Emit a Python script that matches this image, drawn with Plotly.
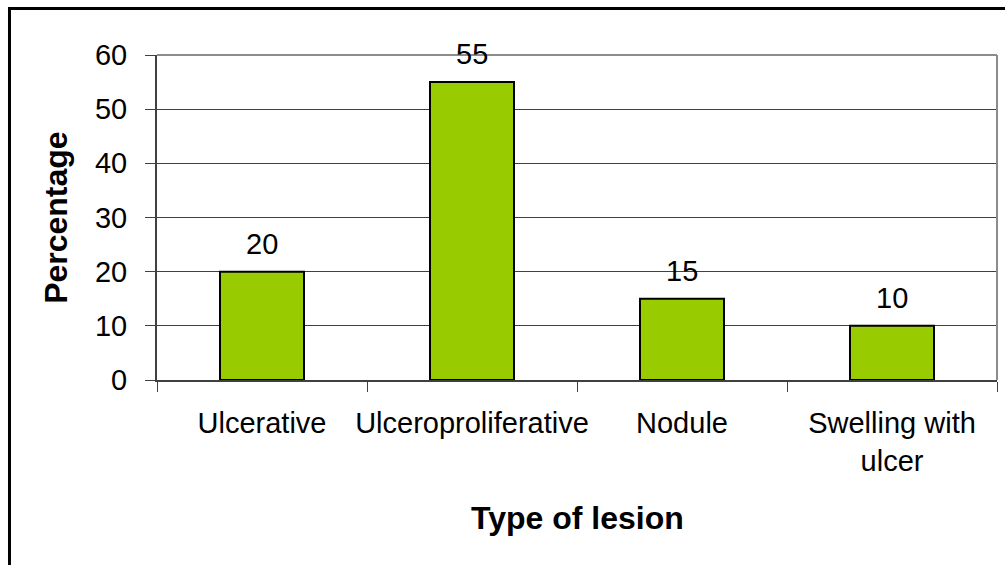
import plotly.graph_objects as go

# Lesion type distribution (percent of cases)
categories = ["Ulcerative", "Ulceroproliferative", "Nodule", "Swelling with<br>ulcer"]
percentages = [20, 55, 15, 10]
y_ticks = [0, 10, 20, 30, 40, 50, 60]

FONT = "Liberation Sans, Arial, sans-serif"

fig = go.Figure()
fig.add_trace(go.Bar(
    x=categories,
    y=percentages,
    width=0.4,
    marker=dict(color="#99CC00", line=dict(color="#000000", width=2)),
    hoverinfo="x+y",
))

# value labels above each bar
for cat, val in zip(categories, percentages):
    fig.add_annotation(
        x=cat, y=val, xref="x", yref="y",
        text=str(val), showarrow=False,
        yanchor="bottom", yshift=10,
        font=dict(family=FONT, size=29, color="#000000"),
    )

# axis titles
fig.add_annotation(
    x=0.5, y=-0.4246, xref="paper", yref="paper",
    text="<b>Type of lesion</b>", showarrow=False,
    xanchor="center", yanchor="middle",
    font=dict(family=FONT, size=32, color="#000000"),
)
fig.add_annotation(
    x=-0.121, y=0.5, xref="paper", yref="paper",
    text="<b>Percentage</b>", showarrow=False, textangle=-90,
    xanchor="center", yanchor="middle",
    font=dict(family=FONT, size=32, color="#000000"),
)

# plot-area frame (top and right) in grey
fig.add_shape(type="line", xref="paper", yref="paper", x0=0, x1=1, y0=1, y1=1,
              line=dict(color="#8c8c8c", width=2))
fig.add_shape(type="line", xref="paper", yref="paper", x0=1, x1=1, y0=0, y1=1,
              line=dict(color="#8c8c8c", width=2))

# outer chart border
fig.add_shape(type="rect", xref="paper", yref="paper",
              x0=-0.1756, x1=1.02, y0=-0.6, y1=1.1431,
              line=dict(color="#000000", width=3), layer="above")

fig.update_layout(
    width=1005, height=565,
    margin=dict(l=157, r=8, t=55, b=185),
    paper_bgcolor="#ffffff", plot_bgcolor="#ffffff",
    showlegend=False,
    font=dict(family=FONT, color="#000000"),
    bargap=0.6,
)
fig.update_xaxes(
    type="category", automargin=False, tickangle=0,
    showline=True, linecolor="#404040", linewidth=2,
    ticks="outside", tickson="boundaries", ticklen=10, tickcolor="#404040", tickwidth=1,
    ticklabelstandoff=16,
    tickfont=dict(family=FONT, size=29, color="#000000"),
    showgrid=False,
)
fig.update_yaxes(
    range=[0, 60], tickvals=y_ticks, automargin=False,
    showline=True, linecolor="#404040", linewidth=2,
    ticks="outside", ticklen=10, tickcolor="#404040", tickwidth=1,
    ticklabelstandoff=12,
    tickfont=dict(family=FONT, size=29, color="#000000"),
    showgrid=True, gridcolor="#404040", gridwidth=1,
    zeroline=False,
)

fig.write_html("out.html")
